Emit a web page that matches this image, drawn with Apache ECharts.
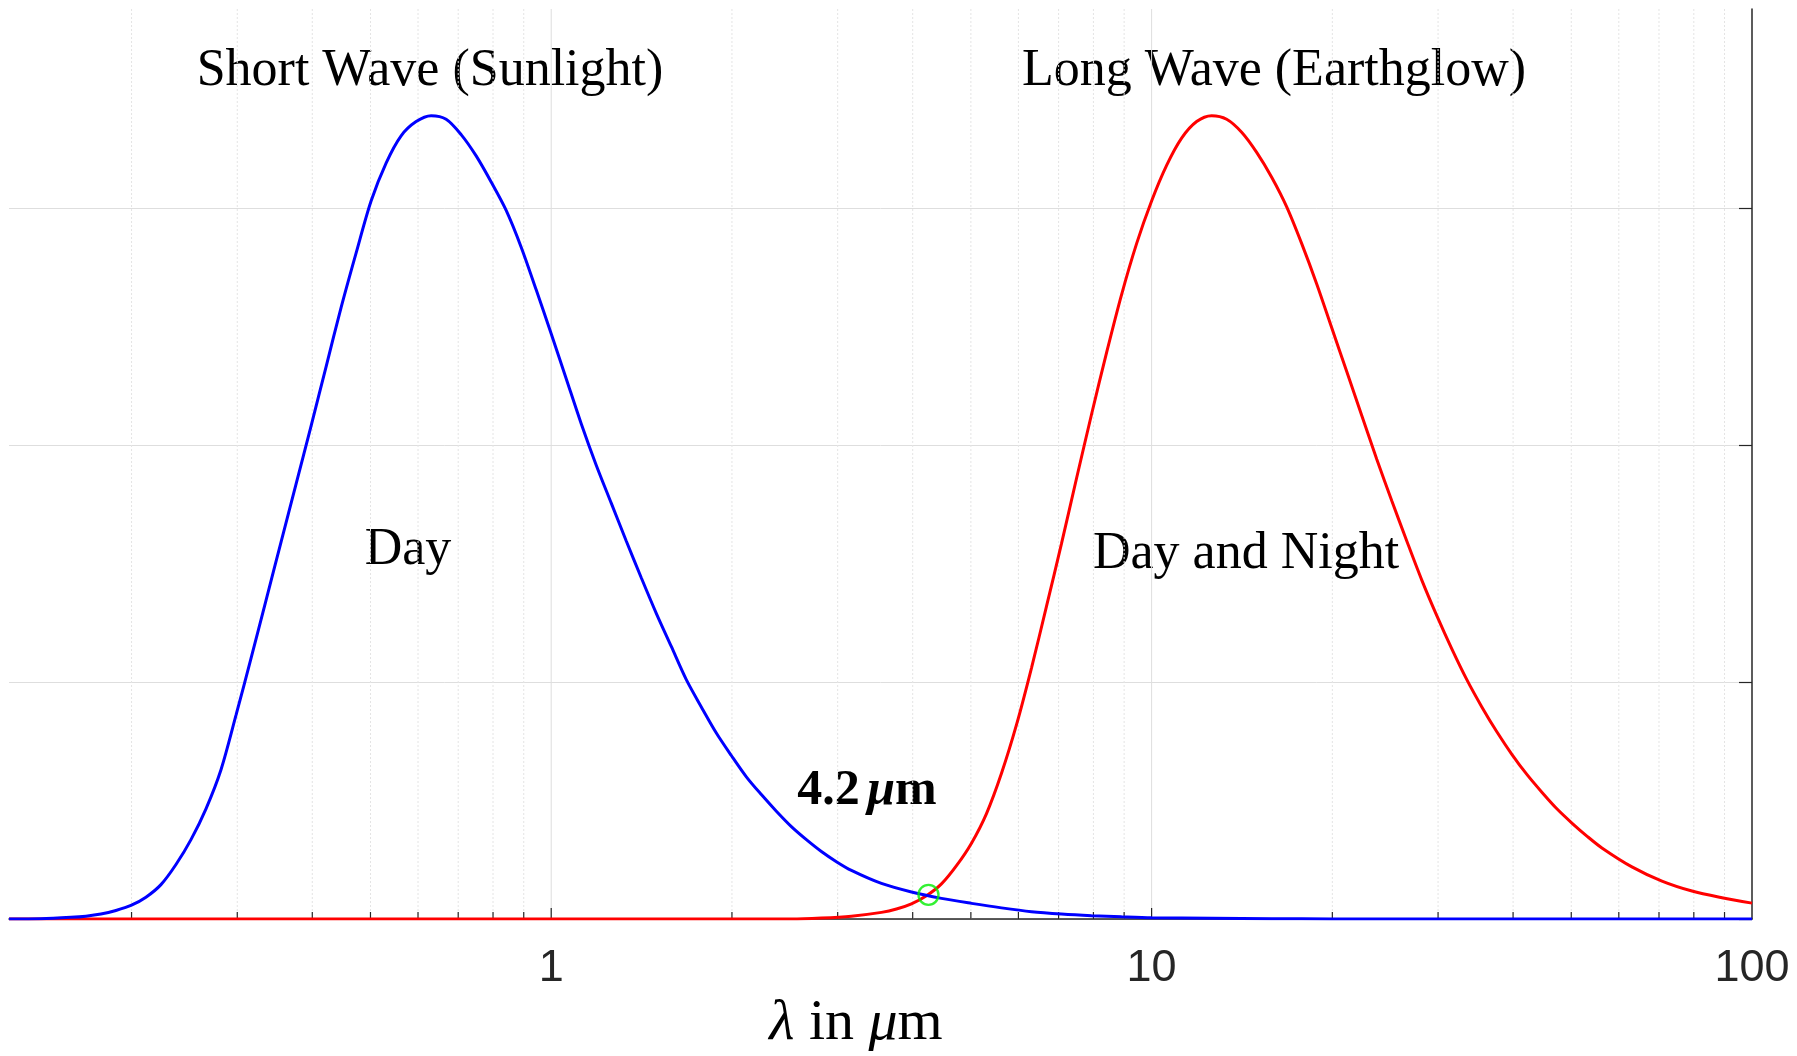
<!DOCTYPE html>
<html>
<head>
<meta charset="utf-8">
<title>Short wave / long wave</title>
<script src="https://cdn.jsdelivr.net/npm/echarts@6/dist/echarts.min.js"></script>
<style>
  html, body { margin: 0; padding: 0; background: #fff; }
  #chart { width: 1797px; height: 1056px; }
</style>
</head>
<body>
<div id="chart"></div>
<script>
// log10 of wavelength (um) and relative intensity
var sunLogX = [-0.903, -0.85, -0.80, -0.775, -0.75, -0.725, -0.70, -0.675, -0.65, -0.625, -0.60,
  -0.575, -0.55, -0.525, -0.50, -0.475, -0.45, -0.425, -0.40, -0.375, -0.35, -0.325, -0.30,
  -0.275, -0.25, -0.225, -0.20, -0.175, -0.15, -0.125, -0.10, -0.075, -0.05, -0.025, 0,
  0.025, 0.05, 0.075, 0.10, 0.125, 0.15, 0.175, 0.20, 0.225, 0.25, 0.275, 0.30, 0.325, 0.35,
  0.375, 0.40, 0.425, 0.45, 0.475, 0.50, 0.55, 0.60, 0.65, 0.70, 0.75, 0.80, 0.85, 0.90,
  0.95, 1.0, 1.1, 1.2, 1.3, 1.5, 2.0];
var sunY = [0, 0.001, 0.007, 0.012, 0.021, 0.036, 0.057, 0.092, 0.145, 0.23, 0.335,
  0.465, 0.63, 0.86, 1.10, 1.345, 1.59, 1.835, 2.08, 2.33, 2.58, 2.81, 3.03,
  3.19, 3.305, 3.365, 3.39, 3.375, 3.31, 3.22, 3.11, 2.99, 2.835, 2.655, 2.47,
  2.28, 2.09, 1.915, 1.755, 1.595, 1.44, 1.29, 1.15, 1.01, 0.895, 0.785, 0.69, 0.60, 0.525,
  0.455, 0.39, 0.335, 0.285, 0.242, 0.205, 0.15, 0.114, 0.087, 0.066, 0.047, 0.031, 0.021, 0.014,
  0.009, 0.005, 0.003, 0.0015, 0.0005, 0, 0];

var earthLogX = [-0.903, 0.40, 0.45, 0.50, 0.55, 0.575, 0.60, 0.625, 0.65, 0.675, 0.70, 0.725,
  0.75, 0.775, 0.80, 0.825, 0.85, 0.875, 0.90, 0.925, 0.95, 0.975, 1.0, 1.025, 1.05, 1.075,
  1.10, 1.125, 1.15, 1.175, 1.20, 1.225, 1.25, 1.275, 1.30, 1.325, 1.35, 1.375, 1.40, 1.425,
  1.45, 1.475, 1.50, 1.525, 1.55, 1.575, 1.60, 1.625, 1.65, 1.675, 1.70, 1.725, 1.75, 1.80,
  1.85, 1.90, 1.95, 2.0];
var earthY = [0, 0, 0.004, 0.012, 0.028, 0.042, 0.064, 0.098, 0.148, 0.225, 0.32, 0.445,
  0.615, 0.82, 1.06, 1.32, 1.585, 1.86, 2.13, 2.39, 2.635, 2.85, 3.03, 3.18, 3.295, 3.365,
  3.39, 3.375, 3.32, 3.235, 3.13, 3.005, 2.85, 2.68, 2.495, 2.31, 2.125, 1.94, 1.765, 1.595,
  1.43, 1.28, 1.14, 1.01, 0.895, 0.79, 0.695, 0.61, 0.535, 0.465, 0.405, 0.35, 0.30, 0.22,
  0.16, 0.118, 0.09, 0.067];

var crossing = [4.25, 0.102];

var majorTicks = [1, 10, 100];
var minorTicks = [0.2, 0.3, 0.4, 0.5, 0.6, 0.7, 0.8, 0.9,
  2, 3, 4, 5, 6, 7, 8, 9, 20, 30, 40, 50, 60, 70, 80, 90];
var yTicks = [0, 1, 2, 3];
var yMax = 3.84;

function toPoints(logXs, ys) {
  return logXs.map(function (u, i) { return [Math.pow(10, u), ys[i]]; });
}

var serif = '"Liberation Serif", "DejaVu Serif", serif';

var chart = echarts.init(document.getElementById('chart'));

// vertical grid lines plus short inward ticks on the log axis
function renderMinor(params, api) {
  var x = api.value(0);
  var base = api.coord([x, 0]);
  var top = api.coord([x, yMax]);
  var major = majorTicks.indexOf(x) >= 0;
  return {
    type: 'group',
    children: [{
      type: 'line',
      shape: { x1: base[0], y1: base[1], x2: top[0], y2: top[1] },
      style: major ? { stroke: '#dedede', lineWidth: 1 }
                   : { stroke: '#e4e4e4', lineWidth: 1, lineDash: [2, 2] }
    }, {
      type: 'line',
      shape: { x1: base[0], y1: base[1], x2: base[0], y2: base[1] - (major ? 11 : 7) },
      style: { stroke: '#262626', lineWidth: 1.2 }
    }]
  };
}

chart.setOption({
  animation: false,
  backgroundColor: '#fff',
  grid: { left: 9, right: 45, top: 9, bottom: 137 },
  xAxis: {
    type: 'log',
    logBase: 10,
    min: 0.125,
    max: 100,
    axisLine: { show: true, lineStyle: { color: '#262626', width: 1.5 } },
    axisTick: { show: false },
    splitLine: { show: false },
    axisLabel: {
      margin: 27,
      fontSize: 45,
      fontFamily: '"Liberation Sans", Arial, sans-serif',
      color: '#262626',
      formatter: function (v) {
        for (var i = 0; i < majorTicks.length; i++) {
          if (Math.abs(v - majorTicks[i]) < 1e-6 * majorTicks[i]) return String(majorTicks[i]);
        }
        return '';
      }
    }
  },
  yAxis: {
    type: 'value',
    position: 'right',
    min: 0,
    max: yMax,
    axisLine: { show: true, lineStyle: { color: '#262626', width: 1.5 } },
    axisTick: { show: true, inside: true, length: 13, customValues: yTicks,
      lineStyle: { color: '#262626', width: 1.2 } },
    axisLabel: { show: false },
    splitLine: { show: true, lineStyle: { color: '#dedede', width: 1 } }
  },
  series: [{
    type: 'custom',
    silent: true,
    z: 1,
    renderItem: renderMinor,
    encode: { x: 0 },
    data: minorTicks.concat([1, 10]).map(function (v) { return [v]; })
  }, {
    name: 'Long Wave',
    type: 'line',
    z: 3,
    showSymbol: false,
    smooth: 0.3,
    lineStyle: { color: '#ff0000', width: 3 },
    data: toPoints(earthLogX, earthY)
  }, {
    name: 'Short Wave',
    type: 'line',
    z: 4,
    showSymbol: false,
    smooth: 0.3,
    lineStyle: { color: '#0000ff', width: 3 },
    data: toPoints(sunLogX, sunY)
  }, {
    type: 'scatter',
    z: 5,
    symbol: 'circle',
    symbolSize: 20,
    itemStyle: { color: 'rgba(0,0,0,0)', borderColor: '#00ee00', borderWidth: 2.4 },
    data: [crossing]
  }],
  graphic: [{
    type: 'text', x: 430, y: 71,
    style: { text: 'Short Wave (Sunlight)', font: '52px ' + serif, fill: '#000', align: 'center', verticalAlign: 'middle' }
  }, {
    type: 'text', x: 1274, y: 71,
    style: { text: 'Long Wave (Earthglow)', font: '52px ' + serif, fill: '#000', align: 'center', verticalAlign: 'middle' }
  }, {
    type: 'text', x: 408, y: 550,
    style: { text: 'Day', font: '52px ' + serif, fill: '#000', align: 'center', verticalAlign: 'middle' }
  }, {
    type: 'text', x: 1246, y: 554,
    style: { text: 'Day and Night', font: '52px ' + serif, fill: '#000', align: 'center', verticalAlign: 'middle' }
  }, {
    type: 'text', x: 867, y: 791,
    style: {
      text: '{b|4.2}{s| }{i|μ}{b|m}',
      align: 'center', verticalAlign: 'middle',
      rich: {
        b: { font: 'bold 50px ' + serif, fill: '#000' },
        s: { font: '30px ' + serif },
        i: { font: 'italic bold 50px ' + serif, fill: '#000' }
      }
    }
  }, {
    type: 'text', x: 856, y: 1024,
    style: {
      text: '{i|λ}{r| in }{i|μ}{r|m}',
      align: 'center', verticalAlign: 'middle',
      rich: {
        r: { font: '58px ' + serif, fill: '#000' },
        i: { font: 'italic 58px ' + serif, fill: '#000' }
      }
    }
  }]
});
</script>
</body>
</html>
